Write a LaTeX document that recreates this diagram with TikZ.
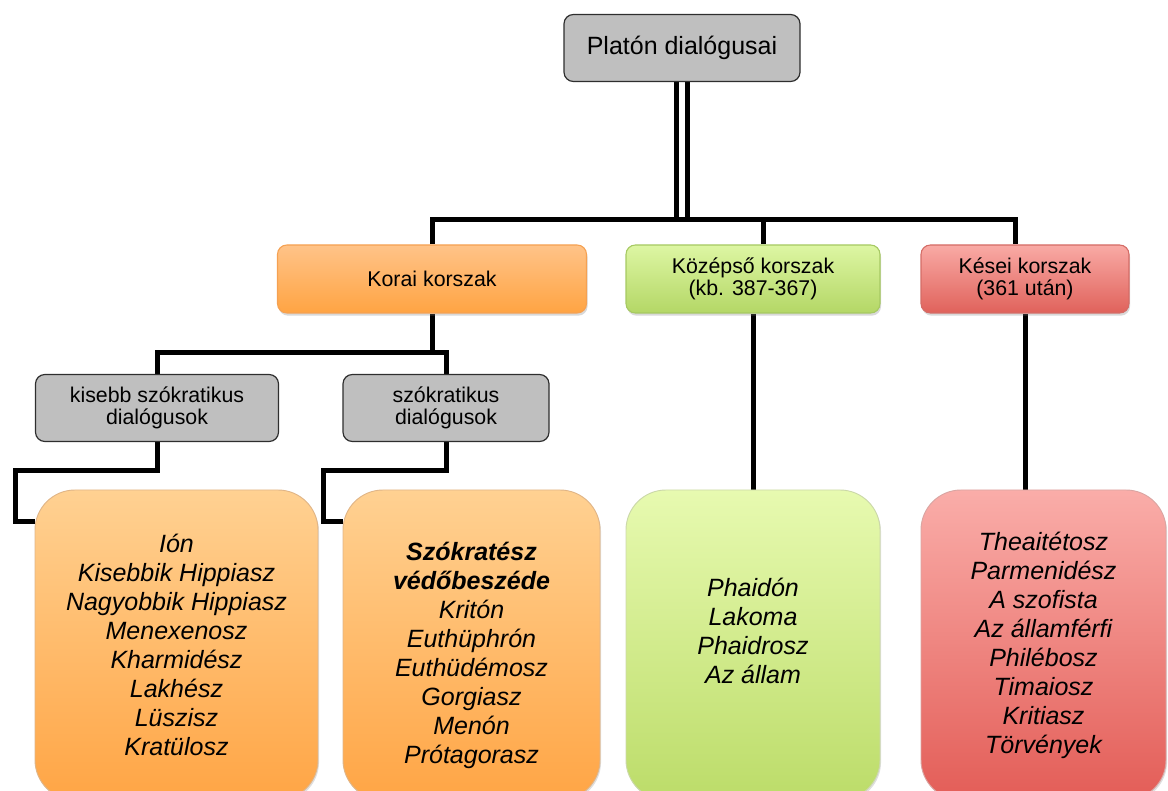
\documentclass[tikz,border=0pt]{standalone}
\usepackage{fontspec}
\setmainfont{Liberation Sans}
\usepackage{xcolor}
\definecolor{cGray}{HTML}{BFBFBF}
\definecolor{cGrayLine}{HTML}{2E2E2E}
\definecolor{cEarlyTop}{HTML}{FFC388}
\definecolor{cEarlyBot}{HTML}{FFA443}
\definecolor{cEarlyLine}{HTML}{F5A152}
\definecolor{cMidTop}{HTML}{DDF6A3}
\definecolor{cMidBot}{HTML}{B4D766}
\definecolor{cMidLine}{HTML}{A6C962}
\definecolor{cLateTop}{HTML}{F9AAA5}
\definecolor{cLateBot}{HTML}{E0625B}
\definecolor{cLateLine}{HTML}{D46C66}
\definecolor{cListEarlyTop}{HTML}{FFD192}
\definecolor{cListEarlyBot}{HTML}{FFA545}
\definecolor{cListMidTop}{HTML}{E7FAB0}
\definecolor{cListMidBot}{HTML}{BCDC69}
\definecolor{cListLateTop}{HTML}{FAADA9}
\definecolor{cListLateBot}{HTML}{E35D57}
\usepackage{tikz}
\usetikzlibrary{positioning,shadows,backgrounds}
\tikzset{
  node-root/.style={draw=cGrayLine,fill=cGray,line width=0.9pt,rounded corners=7pt,
    minimum width=177pt,minimum height=50.25pt,align=center,
    font=\fontsize{18.75}{22}\selectfont},
  node-group/.style={draw=cGrayLine,fill=cGray,line width=0.9pt,rounded corners=7pt,
    minimum height=50.25pt,align=center,font=\fontsize{16}{16.5}\selectfont},
  node-period/.style={line width=0.8pt,rounded corners=7pt,minimum height=51pt,
    align=center,font=\fontsize{16}{16.5}\selectfont,
    drop shadow={opacity=0.3,shadow xshift=0.8pt,shadow yshift=-2pt}},
  node-early/.style={draw=cEarlyLine,top color=cEarlyTop,bottom color=cEarlyBot},
  node-middle/.style={draw=cMidLine,top color=cMidTop,bottom color=cMidBot},
  node-late/.style={draw=cLateLine,top color=cLateTop,bottom color=cLateBot},
  node-list/.style={line width=0.7pt,rounded corners=30pt,minimum height=232.5pt,
    align=center,font=\itshape\fontsize{18.75}{21.75}\selectfont,
    drop shadow={opacity=0.25,shadow xshift=0.8pt,shadow yshift=-1.5pt}},
  list-early/.style={draw=cListEarlyBot!80!black!60,top color=cListEarlyTop,bottom color=cListEarlyBot},
  list-middle/.style={draw=cListMidBot!80!black!50,top color=cListMidTop,bottom color=cListMidBot},
  list-late/.style={draw=cListLateBot!80!black!50,top color=cListLateTop,bottom color=cListLateBot},
  line-link/.style={line width=3.75pt,draw=black},
  line-double/.style={line width=3.75pt,draw=black,double=white,double distance=4.5pt},
}

\begin{document}
\begin{tikzpicture}[x=0.75pt,y=-0.75pt]
  \useasboundingbox (0,0) rectangle (1168,791);
  \clip (0,0) rectangle (1168,791);
  \node[node-root] (root) at (682,48) {Platón dialógusai};
  % korszakok
  \node[node-period,node-early,minimum width=231.75pt]  (early)  at (432,279)  {Korai korszak};
  \node[node-period,node-middle,minimum width=190.5pt]  (middle) at (753,279)  {Középső korszak\\(kb. 387-367)};
  \node[node-period,node-late,minimum width=156pt]      (late)   at (1025,279) {Kései korszak\\(361 után)};
  % korai csoportok
  \node[node-group,minimum width=182.25pt] (minor) at (157,408) {kisebb szókratikus\\dialógusok};
  \node[node-group,minimum width=154.5pt]  (socr)  at (446,408) {szókratikus\\dialógusok};
  % dialogus listak
  \node[node-list,list-early,minimum width=212.25pt] (minorlist) at (176.5,645)
    {Ión\\Kisebbik Hippiasz\\Nagyobbik Hippiasz\\Menexenosz\\Kharmidész\\Lakhész\\Lüszisz\\Kratülosz};
  \node[node-list,list-early,minimum width=192.75pt] (socrlist) at (471.5,645)
    {\rule{0pt}{30pt}\bfseries Szókratész\\\bfseries védőbeszéde\\Kritón\\Euthüphrón\\Euthüdémosz\\Gorgiasz\\Menón\\Prótagorasz};
  \node[node-list,list-middle,minimum width=190.5pt] (midlist) at (753,645)
    {Phaidón\\Lakoma\\Phaidrosz\\Az állam\\~};
  \node[node-list,list-late,minimum width=183.75pt] (latelist) at (1043.5,645)
    {Theaitétosz\\Parmenidész\\A szofista\\Az államférfi\\Philébosz\\Timaiosz\\Kritiasz\\Törvények};
  \coordinate (midup)  at ([xshift=7.5pt]middle.north);
  \coordinate (lateup) at ([xshift=-7.5pt]late.north);
  \begin{scope}[on background layer]
    \draw[line-double] (root.south) -- (root.south |- 0,220);
    \draw[line-link] (early.north) -- ++(0,-25) -| (lateup);
    \draw[line-link] (midup) -- ++(0,-25);
    \draw[line-link] (early.south) -- ++(0,39) coordinate (fork) -| (minor.north)
      (fork) -| (socr.north);
    \draw[line-link] (minor.south) |- (15,471) |- (minorlist.west |- 0,522);
    \draw[line-link] (socr.south) |- (323,471) |- (socrlist.west |- 0,522);
    \draw[line-link] (middle.south) -- (midlist.north);
    \draw[line-link] (late.south) -- (late.south |- latelist.north);
  \end{scope}
\end{tikzpicture}
\end{document}
